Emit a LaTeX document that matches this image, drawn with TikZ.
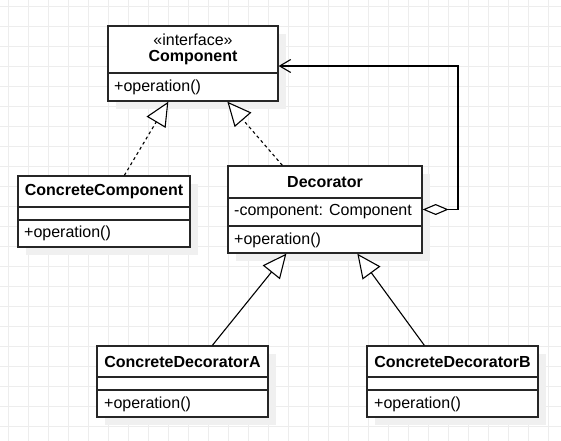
\documentclass[tikz,border=0pt]{standalone}
\usepackage{fontspec}
\setmainfont{Liberation Sans}
\usepackage{tikz}
\usetikzlibrary{arrows.meta,calc,shadows}

\begin{document}
\begin{tikzpicture}[x=1pt, y=-1pt,
              font=\fontsize{16}{19}\selectfont,
              gridline/.style={draw=black!7, line width=1pt},
              classbox/.style={draw=black!85, line width=1.3pt, fill=white, inner sep=0pt,
                general shadow={fill=black!6, shadow xshift=8pt, shadow yshift=-8pt}},
              divider/.style={draw=black!85, line width=1.3pt},
              title/.style={font=\fontsize{16}{19}\selectfont\bfseries, inner sep=0pt},
              stereo/.style={inner sep=0pt},
              member/.style={anchor=west, inner sep=0pt},
              realize/.style={line width=1.1pt, dash pattern=on 3pt off 3pt,
                -{Triangle[fill=white, length=24pt, width=22pt, line width=1.1pt]}},
              inherit/.style={line width=1.1pt,
                -{Triangle[fill=white, length=24pt, width=22pt, line width=1.1pt]}},
              aggr/.style={line width=1.1pt,
                {Diamond[fill=white, length=26pt, width=11pt]}-{Straight Barb[length=11pt, width=13pt]}},
             ]
\useasboundingbox (0,0) rectangle (561,440);
\clip (0,0) rectangle (561,440);
\fill[white] (0,0) rectangle (561,440);
\begin{scope}[shift={(8,6)}]
\draw[gridline, step=20pt] (-20,-20) grid (560,440);
\end{scope}

% classes
\node[classbox, minimum width=170pt, minimum height=75pt] (comp) at (193,63.5) {};
\draw[divider] (comp.west |- 0,73) -- (comp.east |- 0,73);
\node[stereo] (comp-st) at (193,40) {«interface»};
\node[title] (comp-name) at (193,58) {Component};
\node[member] (comp-op) at (114,87) {+operation()};

\node[classbox, minimum width=172pt, minimum height=71pt] (ccomp) at (104,211.5) {};
\draw[divider] (ccomp.west |- 0,207) -- (ccomp.east |- 0,207);
\draw[divider] (ccomp.west |- 0,220) -- (ccomp.east |- 0,220);
\node[title] (ccomp-name) at (104,191.5) {ConcreteComponent};
\node[member] (ccomp-op) at (24,233.5) {+operation()};

\node[classbox, minimum width=194pt, minimum height=87pt] (dec) at (325,209.5) {};
\draw[divider] (dec.west |- 0,198) -- (dec.east |- 0,198);
\draw[divider] (dec.west |- 0,226) -- (dec.east |- 0,226);
\node[title] (dec-name) at (325,182) {Decorator};
\node[member] (dec-attr) at (234,212) {-component: Component};
\node[member] (dec-op) at (234,240) {+operation()};

\node[classbox, minimum width=171pt, minimum height=71pt] (deca) at (182.5,381.5) {};
\draw[divider] (deca.west |- 0,377) -- (deca.east |- 0,377);
\draw[divider] (deca.west |- 0,390) -- (deca.east |- 0,390);
\node[title] (deca-name) at (182.5,361.5) {ConcreteDecoratorA};
\node[member] (deca-op) at (104,404) {+operation()};

\node[classbox, minimum width=171pt, minimum height=71pt] (decb) at (452.5,381.5) {};
\draw[divider] (decb.west |- 0,377) -- (decb.east |- 0,377);
\draw[divider] (decb.west |- 0,390) -- (decb.east |- 0,390);
\node[title] (decb-name) at (452.5,361.5) {ConcreteDecoratorB};
\node[member] (decb-op) at (374,404) {+operation()};

% relations
\draw[realize] ($(ccomp.north west)+(107,0)$) -- ($(comp.south west)+(61,0)$);
\draw[realize] ($(dec.north west)+(55,0)$) -- ($(comp.south west)+(120,0)$);
\draw[inherit] ($(deca.north west)+(116,0)$) -- ($(dec.south west)+(59,0)$);
\draw[inherit] ($(decb.north west)+(58,0)$) -- ($(dec.south west)+(130,0)$);
\coordinate (bend) at (458,66);
\draw[aggr] (dec.east) -| (bend) -- (comp.east |- bend);
\end{tikzpicture}
\end{document}
